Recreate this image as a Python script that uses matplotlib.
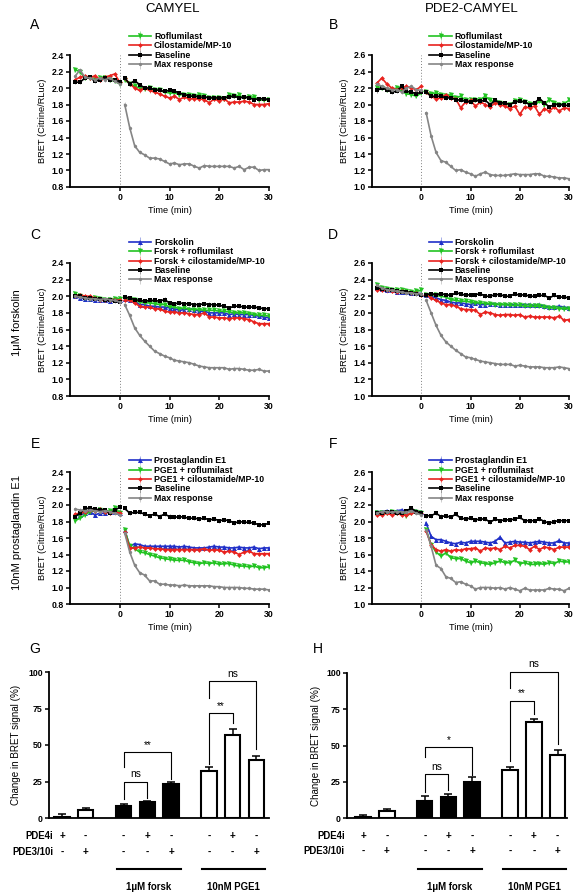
import matplotlib
matplotlib.use("Agg")
import matplotlib.pyplot as plt
from matplotlib.transforms import blended_transform_factory

plt.rcParams["font.family"] = ["Liberation Sans", "DejaVu Sans"]
plt.rcParams["font.weight"] = "bold"

W, H = 576, 893

# ---------------- time course data (x = -9 .. 30 min) ---------------- #
time = list(range(-9, 31))

# A: CAMYEL, inhibitors alone
A_rof = [2.22, 2.20, 2.12, 2.12, 2.10, 2.12, 2.12, 2.10, 2.08, 2.05,
         2.10, 2.05, 2.02, 2.00, 1.99, 2.00, 1.98, 1.97, 1.95, 1.94,
         1.94, 1.92, 1.92, 1.92, 1.90, 1.92, 1.90, 1.88, 1.88, 1.88,
         1.87, 1.92, 1.90, 1.91, 1.88, 1.89, 1.89, 1.86, 1.85, 1.86]
A_cilo = [2.10, 2.13, 2.15, 2.12, 2.15, 2.10, 2.13, 2.15, 2.17, 2.07,
          2.12, 2.05, 2.00, 1.97, 2.00, 1.97, 1.95, 1.93, 1.90, 1.88,
          1.90, 1.86, 1.89, 1.87, 1.87, 1.87, 1.86, 1.82, 1.87, 1.84,
          1.87, 1.82, 1.83, 1.83, 1.84, 1.83, 1.80, 1.80, 1.80, 1.81]
A_base = [2.07, 2.07, 2.12, 2.13, 2.08, 2.10, 2.12, 2.10, 2.10, 2.07,
          2.12, 2.05, 2.09, 2.04, 2.00, 2.00, 1.98, 1.97, 1.96, 1.97,
          1.96, 1.94, 1.92, 1.90, 1.90, 1.89, 1.89, 1.88, 1.88, 1.88,
          1.88, 1.89, 1.90, 1.88, 1.89, 1.88, 1.86, 1.87, 1.87, 1.86]
A_max = [2.14, 2.22, 2.13, 2.12, 2.10, 2.12, 2.10, 2.12, 2.08, 2.05,
         1.80, 1.52, 1.30, 1.22, 1.19, 1.15, 1.15, 1.14, 1.11, 1.08,
         1.09, 1.07, 1.08, 1.08, 1.05, 1.03, 1.06, 1.05, 1.05, 1.05,
         1.05, 1.05, 1.03, 1.05, 1.01, 1.04, 1.04, 1.00, 1.01, 1.01]

# B: PDE2-CAMYEL, inhibitors alone
B_rof = [2.20, 2.20, 2.18, 2.18, 2.20, 2.16, 2.13, 2.12, 2.10, 2.14,
         2.15, 2.13, 2.14, 2.12, 2.10, 2.12, 2.08, 2.10, 2.05, 2.05,
         2.06, 2.06, 2.10, 2.05, 2.03, 2.02, 2.00, 2.00, 2.04, 2.05,
         2.03, 2.01, 2.00, 2.04, 2.00, 2.06, 2.02, 2.00, 2.01, 2.05]
B_cilo = [2.26, 2.32, 2.25, 2.20, 2.18, 2.20, 2.22, 2.20, 2.18, 2.22,
          2.15, 2.10, 2.07, 2.08, 2.12, 2.08, 2.07, 1.96, 2.03, 2.05,
          1.98, 2.03, 2.00, 1.97, 2.02, 2.00, 1.98, 1.95, 1.98, 1.88,
          1.97, 1.96, 1.98, 1.88, 1.95, 1.92, 1.97, 1.92, 1.96, 1.95]
B_base = [2.17, 2.20, 2.18, 2.15, 2.16, 2.22, 2.16, 2.15, 2.13, 2.15,
          2.15, 2.10, 2.10, 2.10, 2.08, 2.08, 2.06, 2.05, 2.04, 2.03,
          2.05, 2.04, 2.05, 2.00, 2.05, 2.02, 2.02, 2.00, 2.03, 2.04,
          2.03, 2.00, 2.02, 2.07, 2.02, 1.97, 2.00, 2.00, 1.99, 1.99]
B_max = [2.25, 2.22, 2.20, 2.18, 2.18, 2.15, 2.20, 2.22, 2.18, 2.17,
         1.90, 1.62, 1.42, 1.32, 1.30, 1.25, 1.20, 1.21, 1.18, 1.16,
         1.13, 1.16, 1.18, 1.15, 1.14, 1.14, 1.14, 1.15, 1.16, 1.15,
         1.15, 1.15, 1.16, 1.16, 1.13, 1.13, 1.12, 1.11, 1.11, 1.10]

# C: CAMYEL, 1uM forskolin
C_ago = [2.00, 1.98, 1.97, 1.97, 1.95, 1.96, 1.95, 1.94, 1.96, 1.95,
         1.97, 1.96, 1.94, 1.90, 1.90, 1.88, 1.88, 1.87, 1.87, 1.86,
         1.85, 1.83, 1.84, 1.85, 1.84, 1.82, 1.82, 1.80, 1.80, 1.80,
         1.80, 1.78, 1.79, 1.78, 1.78, 1.78, 1.77, 1.76, 1.75, 1.74]
C_rof = [2.03, 2.00, 1.98, 1.97, 1.98, 1.97, 1.96, 1.96, 1.97, 1.97,
         1.97, 1.97, 1.95, 1.93, 1.92, 1.92, 1.91, 1.90, 1.90, 1.87,
         1.87, 1.85, 1.86, 1.84, 1.84, 1.84, 1.83, 1.83, 1.83, 1.82,
         1.82, 1.81, 1.80, 1.80, 1.80, 1.79, 1.78, 1.77, 1.77, 1.76]
C_cilo = [2.00, 2.02, 2.00, 2.00, 1.98, 1.96, 1.96, 1.96, 1.96, 1.95,
          1.95, 1.95, 1.92, 1.88, 1.87, 1.87, 1.85, 1.85, 1.82, 1.81,
          1.81, 1.80, 1.80, 1.79, 1.78, 1.78, 1.80, 1.75, 1.75, 1.74,
          1.74, 1.73, 1.74, 1.74, 1.73, 1.72, 1.69, 1.67, 1.67, 1.67]
C_base = [2.00, 2.00, 1.98, 1.98, 1.97, 1.97, 1.96, 1.95, 1.94, 1.93,
          1.99, 1.98, 1.96, 1.95, 1.94, 1.95, 1.95, 1.94, 1.96, 1.92,
          1.91, 1.92, 1.91, 1.91, 1.90, 1.90, 1.91, 1.90, 1.90, 1.89,
          1.88, 1.86, 1.88, 1.88, 1.87, 1.87, 1.87, 1.86, 1.85, 1.85]
C_max = [2.00, 1.99, 1.98, 1.97, 1.97, 1.96, 1.97, 1.96, 1.95, 1.93,
         1.90, 1.77, 1.62, 1.53, 1.46, 1.40, 1.34, 1.31, 1.28, 1.26,
         1.23, 1.22, 1.21, 1.20, 1.18, 1.16, 1.15, 1.14, 1.14, 1.14,
         1.14, 1.12, 1.13, 1.13, 1.12, 1.11, 1.11, 1.12, 1.10, 1.10]

# D: PDE2-CAMYEL, 1uM forskolin
D_ago = [2.30, 2.29, 2.28, 2.27, 2.25, 2.25, 2.25, 2.24, 2.24, 2.23,
         2.22, 2.20, 2.18, 2.16, 2.15, 2.13, 2.12, 2.12, 2.11, 2.10,
         2.12, 2.10, 2.10, 2.11, 2.11, 2.10, 2.10, 2.10, 2.10, 2.09,
         2.10, 2.10, 2.09, 2.10, 2.08, 2.07, 2.07, 2.08, 2.07, 2.06]
D_rof = [2.33, 2.30, 2.29, 2.28, 2.27, 2.27, 2.26, 2.25, 2.26, 2.27,
         2.22, 2.22, 2.21, 2.20, 2.19, 2.16, 2.15, 2.14, 2.14, 2.13,
         2.12, 2.12, 2.11, 2.11, 2.10, 2.10, 2.10, 2.09, 2.09, 2.09,
         2.08, 2.08, 2.08, 2.08, 2.07, 2.06, 2.06, 2.05, 2.05, 2.05]
D_cilo = [2.28, 2.28, 2.27, 2.26, 2.25, 2.26, 2.25, 2.24, 2.24, 2.22,
          2.22, 2.18, 2.15, 2.12, 2.10, 2.10, 2.08, 2.05, 2.04, 2.04,
          2.03, 1.98, 2.01, 2.00, 1.98, 1.97, 1.98, 1.98, 1.97, 1.98,
          1.95, 1.96, 1.95, 1.95, 1.95, 1.95, 1.94, 1.96, 1.91, 1.92]
D_base = [2.30, 2.29, 2.28, 2.27, 2.26, 2.25, 2.25, 2.24, 2.23, 2.22,
          2.22, 2.23, 2.22, 2.23, 2.22, 2.21, 2.24, 2.23, 2.21, 2.22,
          2.22, 2.23, 2.20, 2.20, 2.22, 2.22, 2.20, 2.20, 2.23, 2.21,
          2.22, 2.20, 2.20, 2.21, 2.21, 2.18, 2.21, 2.19, 2.19, 2.18]
D_max = [2.33, 2.30, 2.28, 2.27, 2.26, 2.25, 2.24, 2.24, 2.23, 2.23,
         2.15, 2.00, 1.85, 1.73, 1.65, 1.60, 1.55, 1.51, 1.47, 1.46,
         1.44, 1.42, 1.41, 1.40, 1.39, 1.38, 1.38, 1.38, 1.36, 1.37,
         1.36, 1.35, 1.35, 1.35, 1.34, 1.34, 1.34, 1.35, 1.34, 1.33]

# E: CAMYEL, 10nM PGE1
E_ago = [1.87, 1.88, 1.90, 1.92, 1.88, 1.90, 1.90, 1.92, 1.91, 1.90,
         1.70, 1.50, 1.53, 1.52, 1.50, 1.50, 1.50, 1.50, 1.50, 1.50,
         1.50, 1.49, 1.50, 1.49, 1.48, 1.48, 1.48, 1.49, 1.50, 1.49,
         1.49, 1.48, 1.48, 1.49, 1.48, 1.48, 1.49, 1.47, 1.48, 1.48]
E_rof = [1.81, 1.84, 1.88, 1.92, 1.93, 1.94, 1.92, 1.93, 1.96, 1.90,
         1.70, 1.50, 1.47, 1.43, 1.42, 1.40, 1.38, 1.36, 1.35, 1.34,
         1.33, 1.33, 1.33, 1.31, 1.30, 1.29, 1.30, 1.29, 1.30, 1.28,
         1.29, 1.29, 1.27, 1.26, 1.26, 1.25, 1.26, 1.24, 1.24, 1.25]
E_cilo = [1.89, 1.90, 1.92, 1.94, 1.93, 1.95, 1.92, 1.90, 1.92, 1.90,
          1.67, 1.48, 1.48, 1.49, 1.48, 1.48, 1.47, 1.47, 1.46, 1.46,
          1.46, 1.46, 1.46, 1.46, 1.46, 1.46, 1.47, 1.45, 1.46, 1.45,
          1.43, 1.44, 1.43, 1.40, 1.43, 1.44, 1.41, 1.41, 1.41, 1.41]
E_base = [1.86, 1.90, 1.96, 1.96, 1.95, 1.94, 1.94, 1.90, 1.94, 1.97,
          1.96, 1.90, 1.91, 1.91, 1.89, 1.87, 1.89, 1.86, 1.89, 1.86,
          1.85, 1.86, 1.85, 1.84, 1.84, 1.83, 1.84, 1.82, 1.83, 1.81,
          1.82, 1.81, 1.78, 1.80, 1.79, 1.79, 1.78, 1.76, 1.76, 1.78]
E_max = [1.95, 1.94, 1.93, 1.94, 1.93, 1.92, 1.93, 1.92, 1.90, 1.88,
         1.66, 1.43, 1.27, 1.18, 1.15, 1.08, 1.08, 1.04, 1.04, 1.03,
         1.03, 1.02, 1.03, 1.02, 1.02, 1.02, 1.02, 1.02, 1.01, 1.01,
         1.00, 1.00, 1.00, 1.00, 0.99, 0.99, 0.98, 0.98, 0.98, 0.97]

# F: PDE2-CAMYEL, 10nM PGE1
F_ago = [2.12, 2.12, 2.13, 2.12, 2.13, 2.14, 2.12, 2.13, 2.13, 2.11,
         1.98, 1.82, 1.78, 1.78, 1.76, 1.74, 1.73, 1.75, 1.74, 1.76,
         1.76, 1.76, 1.75, 1.74, 1.76, 1.81, 1.74, 1.75, 1.76, 1.75,
         1.75, 1.74, 1.75, 1.76, 1.75, 1.74, 1.74, 1.77, 1.74, 1.74]
F_rof = [2.10, 2.10, 2.10, 2.12, 2.10, 2.09, 2.07, 2.10, 2.12, 2.10,
         1.90, 1.72, 1.63, 1.58, 1.62, 1.56, 1.55, 1.55, 1.52, 1.50,
         1.52, 1.50, 1.49, 1.48, 1.50, 1.52, 1.50, 1.50, 1.53, 1.49,
         1.50, 1.48, 1.48, 1.49, 1.48, 1.50, 1.49, 1.52, 1.51, 1.51]
F_cilo = [2.08, 2.08, 2.10, 2.08, 2.10, 2.08, 2.08, 2.10, 2.12, 2.10,
          1.88, 1.72, 1.66, 1.64, 1.66, 1.64, 1.66, 1.65, 1.67, 1.67,
          1.68, 1.64, 1.68, 1.67, 1.68, 1.66, 1.70, 1.68, 1.71, 1.71,
          1.70, 1.66, 1.70, 1.66, 1.69, 1.68, 1.66, 1.69, 1.69, 1.69]
F_base = [2.10, 2.10, 2.12, 2.11, 2.10, 2.10, 2.13, 2.16, 2.12, 2.10,
          2.07, 2.07, 2.10, 2.06, 2.07, 2.05, 2.09, 2.04, 2.03, 2.04,
          2.02, 2.03, 2.03, 1.99, 2.03, 2.01, 2.02, 2.02, 2.03, 2.05,
          2.01, 2.01, 2.01, 2.03, 2.00, 1.98, 2.00, 2.01, 2.01, 2.01]
F_max = [2.10, 2.12, 2.12, 2.11, 2.12, 2.12, 2.11, 2.13, 2.10, 2.08,
         1.90, 1.70, 1.47, 1.43, 1.33, 1.31, 1.26, 1.27, 1.24, 1.22,
         1.18, 1.20, 1.20, 1.20, 1.19, 1.20, 1.18, 1.20, 1.18, 1.16,
         1.19, 1.17, 1.17, 1.17, 1.17, 1.19, 1.18, 1.18, 1.16, 1.19]

sem = 0.025

# ---------------- bar chart data ---------------- #
pde4i = ["+", "-", "-", "+", "-", "-", "+", "-"]
pde3i = ["-", "+", "-", "-", "+", "-", "-", "+"]
bar_fill = ["white", "white", "black", "black", "black",
            "white", "white", "white"]
G_vals = [1.0, 5.5, 8.0, 11.0, 23.5, 32.0, 57.0, 39.5]
G_err = [1.5, 1.5, 1.5, 0.8, 1.5, 3.0, 4.0, 3.0]
H_vals = [0.5, 4.5, 11.5, 14.5, 25.0, 33.0, 66.5, 43.5]
H_err = [1.3, 1.5, 3.5, 2.0, 3.0, 2.0, 1.5, 3.5]
# (bar i, bar j, bracket top, left leg end, right leg end, label)
G_sig = [(2, 4, 45, 35, 27, "**"), (2, 3, 25, 13, 14, "ns"),
         (5, 6, 72, 37, 65, "**"), (5, 7, 94, 82, 47, "ns")]
H_sig = [(2, 4, 49, 42, 30, "*"), (2, 3, 30.5, 18, 19, "ns"),
         (5, 6, 81, 39, 72, "**"), (5, 7, 101, 90, 51, "ns")]

# ---------------- styles ---------------- #
GREEN = dict(color="#22c322", ecolor="#9ee29e", marker="v", ms=3.6)
RED = dict(color="#e8231f", ecolor="#f3a3a1", marker="D", ms=2.4)
BLACK = dict(color="black", ecolor="#9a9a9a", marker="s", ms=3.0)
GREY = dict(color="#858585", ecolor="#cfcfcf", marker="o", ms=2.4)
BLUE = dict(color="#2030c8", ecolor="#a5aee8", marker="^", ms=3.6)

FS = 6.3

fig = plt.figure(figsize=(W / 100, H / 100), dpi=100)


def px_axes(l, t, r, b):
    return fig.add_axes([l / W, 1 - b / H, (r - l) / W, (b - t) / H])


def trace(ax, vals, sty, label):
    x_pre, y_pre = time[:10], vals[:10]
    x_post, y_post = time[10:], vals[10:]
    for xs, ys, lab in ((x_pre, y_pre, None), (x_post, y_post, label)):
        ax.errorbar(xs, ys, yerr=sem, color=sty["color"], ecolor=sty["ecolor"],
                    marker=sty["marker"], ms=sty["ms"], mew=0, lw=1.2,
                    elinewidth=0.7, capsize=1.4, capthick=0.7, label=lab)


def style_axes(ax, lw=1.3):
    for s in ("top", "right"):
        ax.spines[s].set_visible(False)
    for s in ("left", "bottom"):
        ax.spines[s].set_linewidth(lw)
    ax.tick_params(direction="out", length=3, width=1.1, labelsize=FS, pad=1.5)


def time_panel(rect, ylo, series, legx, legy):
    ax = px_axes(*rect)
    for vals, sty, lab in series:
        trace(ax, vals, sty, lab)
    ax.axvline(0, color="0.5", ls=(0, (1.0, 2.0)), lw=0.7, zorder=0)
    ax.set_xlim(-10, 30)
    ax.set_ylim(ylo, ylo + 1.6)
    ax.set_xticks([0, 10, 20, 30])
    ax.set_yticks([round(ylo + 0.2 * k, 1) for k in range(9)])
    ax.yaxis.set_major_formatter(plt.FormatStrFormatter("%.1f"))
    style_axes(ax)
    ax.set_xlabel("Time (min)", fontsize=FS + 0.4, labelpad=3)
    ax.set_ylabel("BRET (Citrine/RLuc)", fontsize=FS + 0.4, labelpad=3)
    ax.legend(loc="upper left", bbox_to_anchor=(legx, legy), frameon=False,
              fontsize=FS, handlelength=2.6, handletextpad=0.3,
              labelspacing=0.05, borderpad=0, borderaxespad=0)
    return ax


time_panel((70, 55, 269, 187), 0.8,
           [(A_rof, GREEN, "Roflumilast"), (A_cilo, RED, "Cilostamide/MP-10"),
            (A_base, BLACK, "Baseline"), (A_max, GREY, "Max response")],
           0.295, 1.175)
time_panel((372, 55, 569, 187), 1.0,
           [(B_rof, GREEN, "Roflumilast"), (B_cilo, RED, "Cilostamide/MP-10"),
            (B_base, BLACK, "Baseline"), (B_max, GREY, "Max response")],
           0.29, 1.175)
time_panel((70, 263, 269, 396), 0.8,
           [(C_ago, BLUE, "Forskolin"), (C_rof, GREEN, "Forsk + roflumilast"),
            (C_cilo, RED, "Forsk + cilostamide/MP-10"),
            (C_base, BLACK, "Baseline"), (C_max, GREY, "Max response")],
           0.295, 1.19)
time_panel((372, 263, 569, 396), 1.0,
           [(D_ago, BLUE, "Forskolin"), (D_rof, GREEN, "Forsk + roflumilast"),
            (D_cilo, RED, "Forsk + cilostamide/MP-10"),
            (D_base, BLACK, "Baseline"), (D_max, GREY, "Max response")],
           0.29, 1.19)
time_panel((70, 472, 269, 604), 0.8,
           [(E_ago, BLUE, "Prostaglandin E1"), (E_rof, GREEN, "PGE1 + roflumilast"),
            (E_cilo, RED, "PGE1 + cilostamide/MP-10"),
            (E_base, BLACK, "Baseline"), (E_max, GREY, "Max response")],
           0.295, 1.12)
time_panel((372, 472, 569, 604), 1.0,
           [(F_ago, BLUE, "Prostaglandin E1"), (F_rof, GREEN, "PGE1 + roflumilast"),
            (F_cilo, RED, "PGE1 + cilostamide/MP-10"),
            (F_base, BLACK, "Baseline"), (F_max, GREY, "Max response")],
           0.29, 1.12)

# ---------------- bar charts ---------------- #
pos = [1, 2, 3.6, 4.6, 5.6, 7.2, 8.2, 9.2]


def bar_panel(rect, xlim, vals, err, sig, lab_x, ylab_pad):
    ax = px_axes(*rect)
    ax.bar(pos, vals, width=0.65, color=bar_fill, edgecolor="black",
           linewidth=1.5, zorder=2)
    ax.errorbar(pos, vals, yerr=[[0] * len(err), err], fmt="none",
                ecolor="black", elinewidth=1.1, capsize=2.6, capthick=1.1,
                zorder=1)
    ax.set_xlim(*xlim)
    ax.set_ylim(0, 100)
    ax.set_yticks([0, 25, 50, 75, 100])
    ax.set_xticks([])
    style_axes(ax)
    ax.set_ylabel("Change in BRET signal (%)", fontsize=FS + 0.8,
                  labelpad=ylab_pad)
    for i, j, top, le, re, txt in sig:
        ax.plot([pos[i], pos[i], pos[j], pos[j]], [le, top, top, re],
                color="black", lw=0.8, clip_on=False)
        ax.text((pos[i] + pos[j]) / 2, top + 1.5, txt, ha="center",
                va="bottom", fontsize=FS + 1.0, fontweight="normal",
                clip_on=False)
    tr = blended_transform_factory(ax.transData, ax.transAxes)
    for name, signs, yy in (("PDE4i", pde4i, -0.123), ("PDE3/10i", pde3i, -0.23)):
        ax.text(lab_x, yy, name, transform=ax.transAxes, ha="right",
                va="center", fontsize=FS + 0.6)
        for p, s in zip(pos, signs):
            ax.text(p, yy, s, transform=tr, ha="center", va="center",
                    fontsize=FS + 0.8)
    for (x0, x1), lab in (((3.3, 6.0), "1\u03bcM forsk"),
                          ((6.9, 9.55), "10nM PGE1")):
        ax.plot([x0, x1], [-0.35, -0.35], color="black", lw=1.5,
                transform=tr, clip_on=False)
        ax.text((x0 + x1) / 2, -0.475, lab, transform=tr, ha="center",
                va="center", fontsize=FS + 0.6)
    return ax


bar_panel((49, 672, 269, 818), (0.45, 9.73), G_vals, G_err, G_sig, 0.02, 5)
bar_panel((347, 673, 567, 818), (0.32, 9.6), H_vals, H_err, H_sig, -0.01, 4)

# ---------------- titles / panel letters ---------------- #
fig.text(173 / W, 1 - 9 / H, "CAMYEL", ha="center", va="center",
         fontsize=9.5, fontweight="normal")
fig.text(472 / W, 1 - 9 / H, "PDE2-CAMYEL", ha="center", va="center",
         fontsize=9.5, fontweight="normal")
for letter, x, y in (("A", 35, 25), ("B", 333, 25), ("C", 35, 235),
                     ("D", 333, 235), ("E", 35, 444), ("F", 333, 444),
                     ("G", 35, 649), ("H", 318, 649)):
    fig.text(x / W, 1 - y / H, letter, ha="center", va="center",
             fontsize=10, fontweight="normal")
fig.text(17 / W, 1 - 323 / H, "1\u03bcM forskolin", rotation=90,
         ha="center", va="center", fontsize=8, fontweight="normal")
fig.text(17 / W, 1 - 532 / H, "10nM prostaglandin E1", rotation=90,
         ha="center", va="center", fontsize=8, fontweight="normal")

fig.savefig("out.png", dpi=100)
